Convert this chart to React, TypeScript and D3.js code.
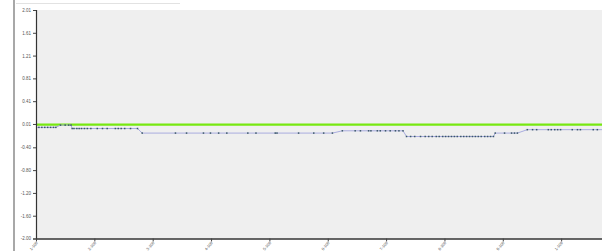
import React, { useRef, useEffect } from "react";
import { select, scaleLinear, axisLeft, axisBottom, line } from "d3";

// y axis tick values
const yTicks = [-2.0, -1.6, -1.2, -0.8, -0.4, 0.01, 0.41, 0.81, 1.21, 1.61, 2.01];
const xTickValues = [0, 10, 20, 30, 40, 50, 60, 70, 80, 90];
const xTickLabels = ["1-108", "2-108", "3-108", "4-108", "5-108", "6-108", "7-108", "8-108", "9-108", "1-109"];
const threshold = 0;

// series: x position (tick units) and value
const seriesX = [
  0, 0.5, 1, 1.5, 2, 2.5, 3, 3.4,
  4.2, 5, 5.6, 6,
  6.2, 6.5, 7, 7.4, 7.8, 8.3, 8.8, 9.4, 10.5, 11.4, 12.2, 13.6, 14.1, 14.6, 15.2, 16.2, 17.4,
  18.2, 23.9, 25.8, 28.7, 29.9, 31.3, 32.7, 36.3, 37.7, 41, 41.3, 45, 47.6, 49.3, 50.8,
  52.5, 54.7, 55.6, 57, 57.4, 58.5, 59, 59.9, 60.7, 61.6, 62.2, 62.9,
  63.5, 64.2, 64.9, 65.9, 66.7, 67.3, 67.9, 68.6, 69.1, 69.7, 70.2, 70.7, 71.2, 71.7, 72.2, 72.8, 73.3, 73.8, 74.3, 74.8, 75.3, 75.8, 76.3, 76.9, 77.4, 77.9, 78.4,
  78.7, 80.3, 81.5, 82, 82.5,
  84.2, 85.1, 85.8, 87.8, 88.3, 88.9, 89.4, 89.9, 91.9, 92.8, 93.3, 95.5, 96.2, 98,
];
const seriesY = [
  -0.05, -0.05, -0.05, -0.05, -0.05, -0.05, -0.05, -0.05,
  -0.01, -0.01, -0.01, -0.01,
  -0.07, -0.07, -0.07, -0.07, -0.07, -0.07, -0.07, -0.07, -0.07, -0.07, -0.07, -0.07, -0.07, -0.07, -0.07, -0.07, -0.07,
  -0.15, -0.15, -0.15, -0.15, -0.15, -0.15, -0.15, -0.15, -0.15, -0.15, -0.15, -0.15, -0.15, -0.15, -0.15,
  -0.11, -0.11, -0.11, -0.11, -0.11, -0.11, -0.11, -0.11, -0.11, -0.11, -0.11, -0.11,
  -0.21, -0.21, -0.21, -0.21, -0.21, -0.21, -0.21, -0.21, -0.21, -0.21, -0.21, -0.21, -0.21, -0.21, -0.21, -0.21, -0.21, -0.21, -0.21, -0.21, -0.21, -0.21, -0.21, -0.21, -0.21, -0.21, -0.21,
  -0.15, -0.15, -0.15, -0.15, -0.15,
  -0.09, -0.09, -0.09, -0.09, -0.09, -0.09, -0.09, -0.09, -0.09, -0.09, -0.09, -0.09, -0.09, -0.09,
];

const W = 602;
const H = 251;
const left = 36;
const top = 10;
const bottom = 238.5;

export default function App() {
  const svgRef = useRef<SVGSVGElement>(null);

  useEffect(() => {
    const svg = select(svgRef.current);
    const x = scaleLinear().domain([0, 97]).range([left, W]);
    const y = scaleLinear().domain([-2.0, 2.01]).range([bottom, top]);
    const data = seriesX.map((d, i) => ({ x: d, y: seriesY[i] }));

    svg.selectAll("*").remove();

    // page decorations
    svg.append("rect").attr("x", 13).attr("y", 0).attr("width", 2).attr("height", H).attr("fill", "#a8a8a8");
    svg.append("line").attr("x1", 16).attr("x2", 180).attr("y1", 3.5).attr("y2", 3.5).attr("stroke", "#e2e2e2");

    svg.append("rect")
      .attr("x", left).attr("y", top)
      .attr("width", W - left).attr("height", bottom - top)
      .attr("fill", "#efefef");

    svg.append("clipPath").attr("id", "plotclip")
      .append("rect").attr("x", left).attr("y", top).attr("width", W - left).attr("height", bottom - top);

    // threshold line
    svg.append("line")
      .attr("x1", left).attr("x2", W)
      .attr("y1", y(threshold)).attr("y2", y(threshold))
      .attr("stroke", "#77e811").attr("stroke-width", 2.2);

    const g = svg.append("g").attr("clip-path", "url(#plotclip)");
    g.append("path")
      .datum(data)
      .attr("fill", "none")
      .attr("stroke", "#a9acdf")
      .attr("stroke-width", 1)
      .attr("d", line<{ x: number; y: number }>().x((d) => x(d.x)).y((d) => y(d.y)));

    g.selectAll(".pt")
      .data(data)
      .join("rect")
      .attr("class", "pt")
      .attr("x", (d) => x(d.x) - 0.75)
      .attr("y", (d) => y(d.y) - 0.75)
      .attr("width", 1.5)
      .attr("height", 1.5)
      .attr("fill", "#3b5868");

    const yAxis = axisLeft(y)
      .tickValues(yTicks)
      .tickFormat((d) => (d as number).toFixed(2))
      .tickSize(3)
      .tickPadding(2);
    const ya = svg.append("g").attr("transform", `translate(${left},0)`).call(yAxis);
    ya.select(".domain").attr("stroke", "#333").attr("stroke-width", 1.2);
    ya.selectAll(".tick line").attr("stroke", "#444");
    ya.selectAll("text").attr("font-size", 4.5).attr("fill", "#555").attr("font-family", "Liberation Sans, Arial");

    const xAxis = axisBottom(x)
      .tickValues(xTickValues)
      .tickFormat((d, i) => xTickLabels[i])
      .tickSizeInner(3)
      .tickSizeOuter(0);
    const xa = svg.append("g").attr("transform", `translate(0,${bottom})`).call(xAxis);
    xa.select(".domain").attr("stroke", "#333").attr("stroke-width", 1.5);
    xa.selectAll(".tick line").attr("stroke", "#444");
    xa.selectAll("text")
      .attr("font-size", 4)
      .attr("fill", "#555")
      .attr("font-family", "Liberation Sans, Arial")
      .attr("text-anchor", "end")
      .attr("dy", 0)
      .attr("y", 0)
      .attr("transform", "translate(1.5,4.5) rotate(-50)");
  }, []);

  return (
    <svg
      ref={svgRef}
      width={W}
      height={H}
      style={{ position: "absolute", left: 0, top: 0, background: "#fff" }}
    />
  );
}
